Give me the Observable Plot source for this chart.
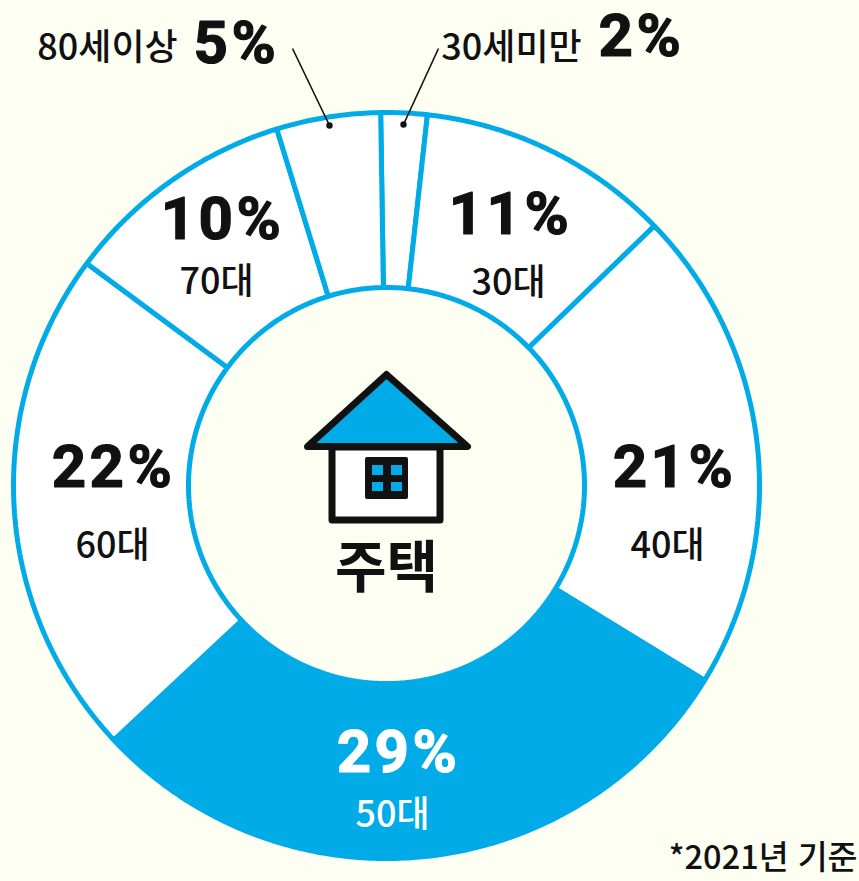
<!DOCTYPE html>
<html lang="ko">
<head>
<meta charset="utf-8">
<script src="https://cdn.jsdelivr.net/npm/d3@7"></script>
<script src="https://cdn.jsdelivr.net/npm/@observablehq/plot@0.6"></script>
<style>
html,body{margin:0;padding:0;background:#FEFFF3;overflow:hidden}
svg{display:block}
.pct text{letter-spacing:3.5px}
</style>
</head>
<body>
<div id="chart"></div>
<script>
// Data
const ages = ["30세미만", "30대", "40대", "50대", "60대", "70대", "80세이상"];
const shares = [2, 11, 21, 29.3, 22.1, 10.1, 4.5];
const percentLabels = ["2%", "11%", "21%", "29%", "22%", "10%", "5%"];
const ageLabels = ["30세미만", "30대", "40대", "50대", "60대", "70대", "80세이상"];

// Layout
const BG = "#FEFFF3", BLUE = "#00ABE7", INK = "#111111";
const cx = 386, cy = 485, R = 373, r = 198;
const startDeg = -0.9;
const pctX = [641, 510, 674, 398, 113, 222, 236];
const pctY = [36, 214, 467, 752, 467, 219, 43];
const ageX = [511, 508, 667, 392, 112, 216, 107];
const ageY = [48, 283, 546, 815, 546, 282, 48];

const pie = d3.pie().sort(null).startAngle(startDeg * Math.PI / 180).endAngle((startDeg + 360) * Math.PI / 180);
const arcs = pie(shares);
const polar = (rad, a) => ({x: cx + rad * Math.sin(a), y: cy - rad * Math.cos(a)});
const wedgePts = arcs.flatMap((d, i) => {
  const n = Math.ceil((d.endAngle - d.startAngle) * 90);
  const as = d3.range(n + 1).map(k => d.startAngle + (d.endAngle - d.startAngle) * k / n);
  return [...as.map(a => polar(R, a)), ...as.reverse().map(a => polar(r, a))].map(p => ({...p, age: ages[i]}));
});
const rows = ages.map((age, i) => ({age, pct: percentLabels[i], label: ageLabels[i], px: pctX[i], py: pctY[i], ax: ageX[i], ay: ageY[i], hi: age === "50대"}));

const KR = "'Noto Sans CJK KR','Noto Sans',sans-serif";
const plot = Plot.plot({
  width: 859, height: 881,
  margin: 0,
  style: {background: BG},
  x: {domain: [0, 859], range: [0, 859], axis: null},
  y: {domain: [0, 881], range: [0, 881], axis: null},
  color: {domain: ages, range: ages.map(a => a === "50대" ? BLUE : "#FFFFFF")},
  marks: [
    // Donut
    Plot.line(wedgePts, {x: "x", y: "y", z: "age", fill: "age", stroke: BLUE, strokeWidth: 5, curve: "linear-closed", strokeLinejoin: "miter"}),
    // Leaders
    Plot.link([{x1: 292, y1: 48, x2: 329, y2: 125}, {x1: 438, y1: 48, x2: 403, y2: 124}], {x1: "x1", y1: "y1", x2: "x2", y2: "y2", stroke: INK, strokeWidth: 1.6}),
    Plot.dot([{x: 329, y: 125}, {x: 403, y: 124}], {x: "x", y: "y", r: 3.2, fill: INK}),
    // House
    Plot.rect([{x1: 332, x2: 440, y1: 447, y2: 520}], {x1: "x1", x2: "x2", y1: "y1", y2: "y2", fill: "#FFFFFF", stroke: INK, strokeWidth: 7, strokeLinejoin: "round"}),
    Plot.line([{x: 386, y: 374}, {x: 467, y: 446}, {x: 307, y: 446}], {x: "x", y: "y", curve: "linear-closed", fill: BLUE, stroke: INK, strokeWidth: 7, strokeLinejoin: "round"}),
    Plot.rect([{x1: 365, x2: 408, y1: 457, y2: 499}], {x1: "x1", x2: "x2", y1: "y1", y2: "y2", fill: INK, rx: 2}),
    Plot.rect([
      {x1: 372, x2: 383, y1: 465, y2: 475}, {x1: 391, x2: 402, y1: 465, y2: 475},
      {x1: 372, x2: 383, y1: 482, y2: 491}, {x1: 391, x2: 402, y1: 482, y2: 491}
    ], {x1: "x1", x2: "x2", y1: "y1", y2: "y2", fill: BLUE}),
    Plot.text(["주택"], {x: 386, y: 569, text: d => d, fontFamily: KR, fontWeight: 700, fontSize: 56, fill: INK}),
    // Labels
    Plot.text(rows, {x: "px", y: "py", text: "pct", className: "pct", fontFamily: "Roboto,sans-serif", fontWeight: 700, fontSize: 60, stroke: d => d.hi ? "#FFFFFF" : INK, strokeWidth: 1.2, fill: d => d.hi ? "#FFFFFF" : INK}),
    Plot.text(rows, {x: "ax", y: "ay", text: "label", fontFamily: KR, fontWeight: 500, fontSize: 36, fill: d => d.hi ? "#FFFFFF" : INK}),
    Plot.text(["*2021년 기준"], {x: 857, y: 858, text: d => d, textAnchor: "end", fontFamily: KR, fontWeight: 500, fontSize: 32.5, fill: INK})
  ]
});
document.getElementById("chart").append(plot);
</script>
</body>
</html>
